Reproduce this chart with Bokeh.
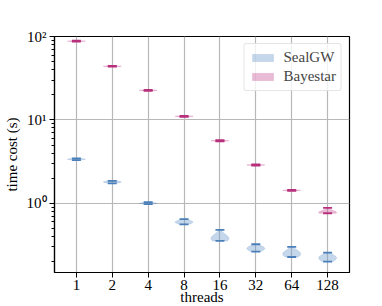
import numpy as np
from bokeh.plotting import figure
from bokeh.models import (Range1d, FixedTicker, Legend, LegendItem)
from bokeh.embed import file_html
from bokeh.resources import INLINE

# ---- data ----
threads = ["1", "2", "4", "8", "16", "32", "64", "128"]
sealgw_min = [3.30, 1.73, 0.98, 0.56, 0.354, 0.264, 0.227, 0.200]
sealgw_max = [3.45, 1.86, 1.03, 0.645, 0.48, 0.323, 0.300, 0.256]
sealgw_mode = [3.38, 1.80, 1.00, 0.595, 0.379, 0.287, 0.247, 0.221]
bayestar_min = [87.0, 43.5, 22.3, 10.9, 5.55, 2.84, 1.41, 0.76]
bayestar_max = [89.0, 44.5, 22.9, 11.2, 5.70, 2.92, 1.45, 0.88]
bayestar_mode = [88.0, 44.0, 22.6, 11.05, 5.62, 2.88, 1.43, 0.775]

SEAL_LINE = "#4a7fb9"
SEAL_FILL = "#6f9bcb"
BAY_LINE = "#b8307c"
BAY_FILL = "#c8559a"
FONT = "Liberation Serif"

positions = list(range(1, len(threads) + 1))


def violin(pos, lo, hi, mode, half=0.25, n=40):
    a, b, m = np.log10(lo), np.log10(hi), np.log10(mode)
    t = np.linspace(a, b, n)
    s = max((b - a) * 0.38, 1e-6)
    w = half * np.exp(-0.5 * ((t - m) / s) ** 2)
    xs = list(pos + w) + list(pos - w[::-1])
    ys = list(10 ** t) + list(10 ** t[::-1])
    return xs, ys


p = figure(frame_width=295, frame_height=236, output_backend="svg",
           toolbar_location=None,
           y_axis_type="log", x_range=Range1d(0.39, 8.61),
           y_range=Range1d(0.148, 100.0),
           min_border_left=40, min_border_right=31, min_border_top=36,
           min_border_bottom=20)

renderers = {}
for name, mins, maxs, modes, lc, fc in [
        ("SealGW", sealgw_min, sealgw_max, sealgw_mode, SEAL_LINE, SEAL_FILL),
        ("Bayestar", bayestar_min, bayestar_max, bayestar_mode, BAY_LINE, BAY_FILL)]:
    xs_all, ys_all = [], []
    for pos, lo, hi, mo in zip(positions, mins, maxs, modes):
        xs, ys = violin(pos, lo, hi, mo)
        xs_all.append(xs)
        ys_all.append(ys)
    r = p.patches(xs_all, ys_all, fill_color=fc, fill_alpha=0.4,
                  line_color=fc, line_alpha=0.3, line_width=0.8)
    renderers[name] = r
    x0 = [q - 0.125 for q in positions]
    x1 = [q + 0.125 for q in positions]
    p.segment(x0=x0, y0=mins, x1=x1, y1=mins, line_color=lc, line_width=1.8)
    p.segment(x0=x0, y0=maxs, x1=x1, y1=maxs, line_color=lc, line_width=1.8)

# axes
p.xaxis.ticker = FixedTicker(ticks=positions)
p.xaxis.major_label_overrides = {q: t for q, t in zip(positions, threads)}
p.xaxis.minor_tick_line_color = None
p.xaxis.axis_label = "threads"

minor = []
for d in [0.1, 1, 10]:
    minor += [d * k for k in range(2, 10)]
p.yaxis.ticker = FixedTicker(ticks=[0.1, 1, 10, 100], minor_ticks=minor)
p.yaxis.major_label_overrides = {0.1: "10\u207b\u00b9", 1: "10\u2070",
                                 10: "10\u00b9", 100: "10\u00b2"}
p.yaxis.axis_label = "time cost (s)"

for ax in [p.xaxis[0], p.yaxis[0]]:
    ax.major_label_text_font = FONT
    ax.major_label_text_font_size = "15px"
    ax.major_label_text_color = "black"
    ax.axis_label_text_font = FONT
    ax.axis_label_text_font_size = "15px"
    ax.axis_label_text_font_style = "normal"
    ax.axis_label_text_color = "black"
    ax.axis_line_color = "black"
    ax.axis_line_width = 1.2
    ax.major_tick_line_color = "black"
    ax.major_tick_out = 5
    ax.major_tick_in = 0
    ax.minor_tick_out = 3
    ax.minor_tick_in = 0
    ax.major_label_standoff = 3
p.xaxis.major_label_standoff = 2
p.xaxis.axis_label_standoff = -4
p.yaxis.axis_label_standoff = 4
p.yaxis.minor_tick_line_color = "black"

p.xgrid.ticker = FixedTicker(ticks=positions)
p.xgrid.grid_line_color = "#b8b8b8"
p.xgrid.grid_line_width = 1.2
p.ygrid.grid_line_color = "#b8b8b8"
p.ygrid.grid_line_width = 1.2
p.outline_line_color = "black"
p.outline_line_width = 1.2
p.outline_line_alpha = 1.0

legend = Legend(items=[LegendItem(label="SealGW", renderers=[renderers["SealGW"]]),
                       LegendItem(label="Bayestar", renderers=[renderers["Bayestar"]])],
                location="top_right")
legend.label_text_font = FONT
legend.label_text_font_size = "15px"
legend.glyph_width = 26
legend.glyph_height = 9
legend.spacing = 2
legend.padding = 5
legend.margin = 7
legend.label_standoff = 8
legend.border_line_color = "#cccccc"
legend.border_line_width = 1
legend.border_radius = 3
legend.background_fill_alpha = 0.8
p.add_layout(legend)

open("out.html", "w").write(file_html(p, INLINE))
